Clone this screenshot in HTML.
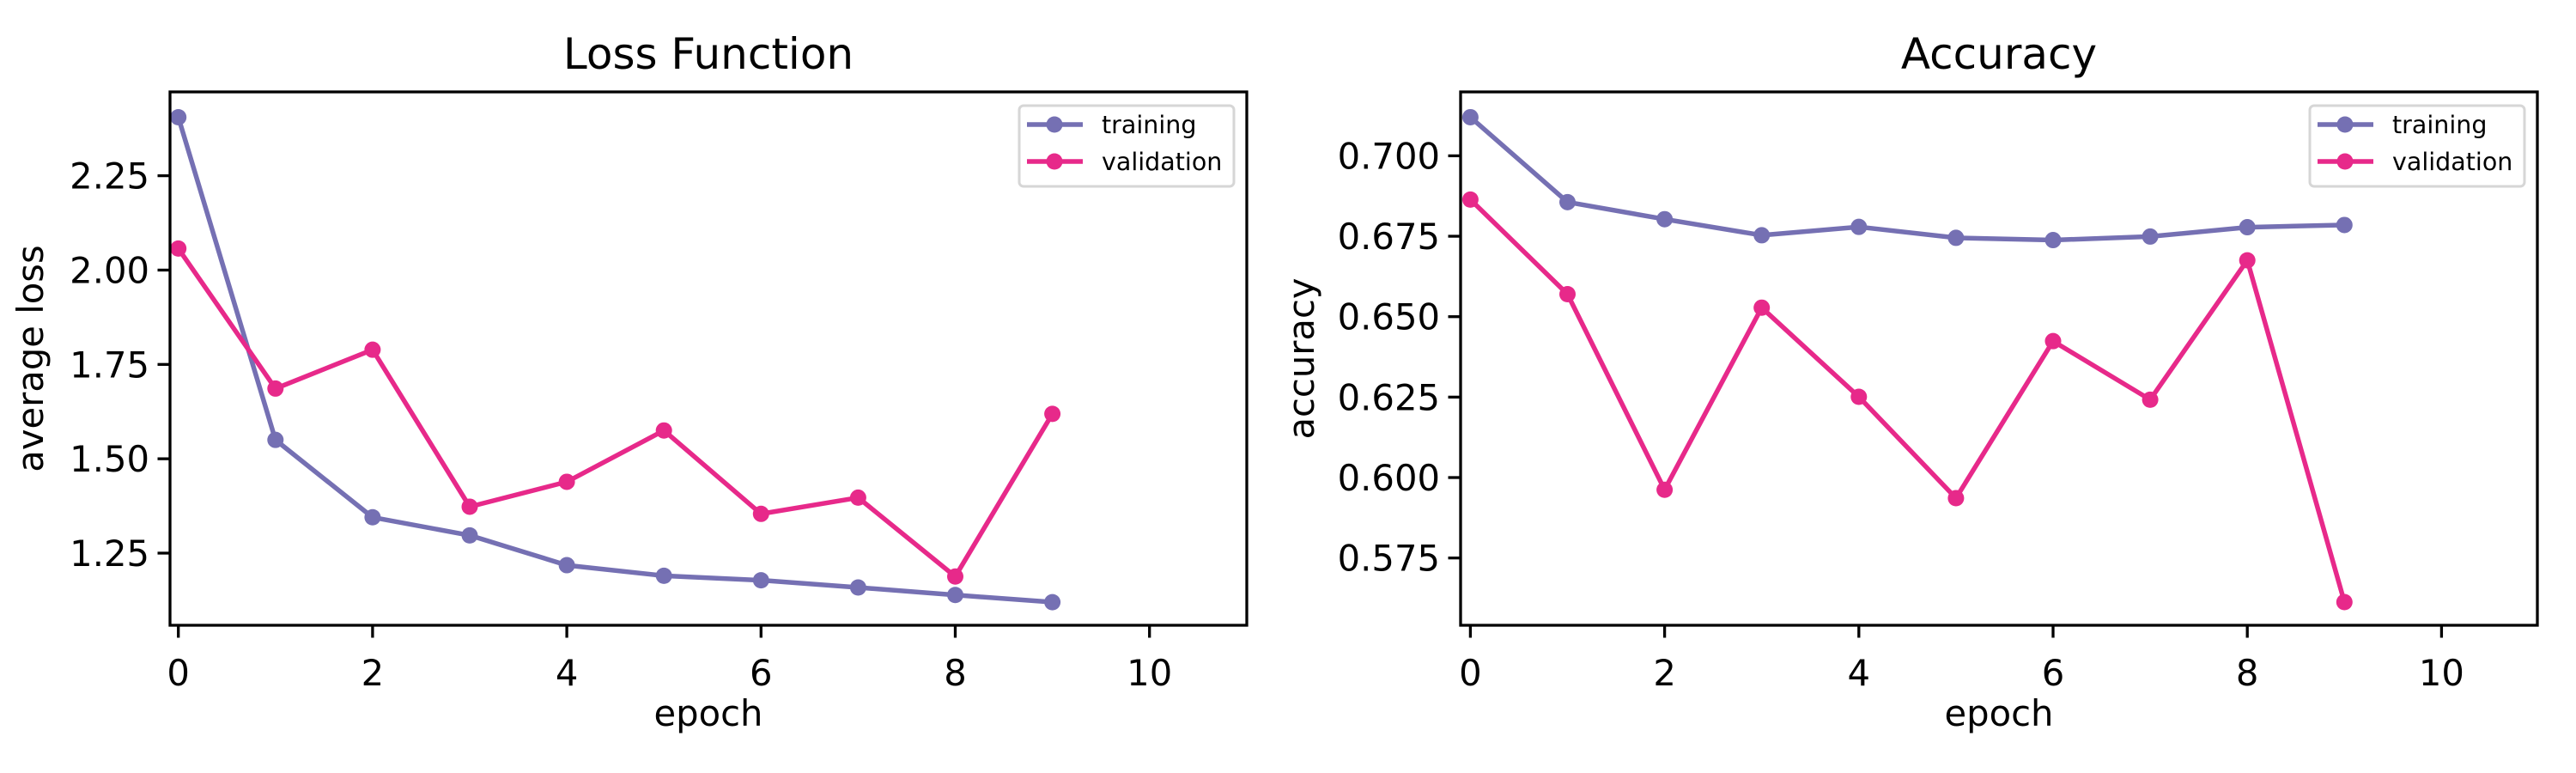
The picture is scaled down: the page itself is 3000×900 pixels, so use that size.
<!DOCTYPE html>
<html><head><meta charset="utf-8"><style>
html,body{margin:0;padding:0;background:#fff}
svg{display:block;font-family:"DejaVu Sans","Liberation Sans",sans-serif}
</style></head><body>
<svg id="fig" width="3000" height="900" viewBox="0 0 3000 900" xmlns="http://www.w3.org/2000/svg"></svg>
<script>
const epochs = [0,1,2,3,4,5,6,7,8,9];
const lossTraining = [2.405,1.550,1.345,1.297,1.218,1.190,1.178,1.159,1.139,1.120];
const lossValidation = [2.057,1.686,1.789,1.373,1.439,1.575,1.354,1.397,1.188,1.619];
const accTraining = [0.712,0.6856,0.6803,0.6753,0.6779,0.6745,0.6738,0.6749,0.6778,0.6785];
const accValidation = [0.6864,0.6570,0.5962,0.6528,0.6251,0.5936,0.6424,0.6242,0.6675,0.5613];
const xTicks = [0,2,4,6,8,10];
const lossYTicks = [1.25,1.50,1.75,2.00,2.25];
const lossYTickLabels = ["1.25","1.50","1.75","2.00","2.25"];
const accYTicks = [0.575,0.600,0.625,0.650,0.675,0.700];
const accYTickLabels = ["0.575","0.600","0.625","0.650","0.675","0.700"];

const NS = "http://www.w3.org/2000/svg";
const svg = document.getElementById('fig');
function mk(tag, attrs, parent){
  const e = document.createElementNS(NS, tag);
  for (const k in attrs) e.setAttribute(k, attrs[k]);
  (parent||svg).appendChild(e);
  return e;
}
const C_TR = "#7570b3", C_VA = "#e7298a";

function panel(cfg){
  const g = mk('g', {});
  
  
  const L = cfg.left, R = cfg.right, T = 107, B = 728;
  const xs = v => cfg.x0 + v * 113.1;
  const ys = v => cfg.yRefPx + (cfg.yRefVal - v) * cfg.yScale;

  // title
  const t = mk('text', {x:(L+R)/2, y:80, 'font-size':50, 'text-anchor':'middle', fill:'#000'}, g);
  t.textContent = cfg.title;
  
  

  // series
  function series(vals, color, nm){
    const sg = mk('g', {}, g);
    
    
    const pts = epochs.map((e,i)=>xs(e).toFixed(1)+','+ys(vals[i]).toFixed(1)).join(' ');
    const pl = mk('polyline', {points:pts, fill:'none', stroke:color, 'stroke-width':5.5, 'stroke-linejoin':'round', 'stroke-linecap':'square'}, sg);
    
    
    epochs.forEach((e,i)=>{
      const c = mk('circle', {cx:xs(e), cy:ys(vals[i]), r:9.5, fill:color}, sg);
      
      
    });
  }
  series(cfg.train, C_TR, 'training-series');
  series(cfg.val, C_VA, 'validation-series');

  // axes frame
  const fr = mk('rect', {x:L, y:T, width:R-L, height:B-T, fill:'none', stroke:'#000', 'stroke-width':3.3}, g);
  
  

  // x ticks
  xTicks.forEach(v=>{
    const x = xs(v);
    mk('line', {x1:x, x2:x, y1:B, y2:B+14.5, stroke:'#000', 'stroke-width':3.3}, g);
    const tl = mk('text', {x:x, y:798, 'font-size':41.7, 'text-anchor':'middle', fill:'#000'}, g);
    tl.textContent = String(v);
    
    
  });
  const xl = mk('text', {x:(L+R)/2, y:845, 'font-size':41.7, 'text-anchor':'middle', fill:'#000'}, g);
  xl.textContent = 'epoch';
  
  

  // y ticks
  cfg.yTicks.forEach((v,i)=>{
    const y = ys(v);
    mk('line', {x1:L-14.5, x2:L, y1:y, y2:y, stroke:'#000', 'stroke-width':3.3}, g);
    const tl = mk('text', {x:L-24, y:y+15, 'font-size':41.7, 'text-anchor':'end', fill:'#000'}, g);
    tl.textContent = cfg.yLabels[i];
    
    
  });
  const yl = mk('text', {x:0, y:0, 'font-size':41.7, 'text-anchor':'middle', fill:'#000',
    transform:`translate(${cfg.yTitleX},${(T+B)/2}) rotate(-90)`}, g);
  yl.textContent = cfg.yTitle;
  
  

  // legend
  const lg = mk('g', {}, g);
  
  
  const lx = R - 265;
  mk('rect', {x:lx, y:123, width:250, height:94, rx:5, fill:'#fff', 'fill-opacity':0.8, stroke:'#d6d6d6', 'stroke-width':3}, lg);
  [[C_TR,'training',145],[C_VA,'validation',188]].forEach(([col,lab,y])=>{
    const eg = mk('g', {}, lg);
    
    
    mk('line', {x1:lx+9, x2:lx+74, y1:y, y2:y, stroke:col, 'stroke-width':5.5}, eg);
    mk('circle', {cx:lx+41, cy:y, r:9.5, fill:col}, eg);
    const tx = mk('text', {x:lx+96, y:y+10, 'font-size':28.5, fill:'#000'}, eg);
    tx.textContent = lab;
  });
}

panel({name:'loss-chart', title:'Loss Function', left:198, right:1452, x0:207.7,
  yRefVal:2.25, yRefPx:204.6, yScale:439.4, train:lossTraining, val:lossValidation,
  yTicks:lossYTicks, yLabels:lossYTickLabels, yTitle:'average loss', yTitleX:50});
panel({name:'accuracy-chart', title:'Accuracy', left:1701, right:2955, x0:1712.4,
  yRefVal:0.700, yRefPx:181.4, yScale:3746, train:accTraining, val:accValidation,
  yTicks:accYTicks, yLabels:accYTickLabels, yTitle:'accuracy', yTitleX:1530});
</script>
</body></html>
